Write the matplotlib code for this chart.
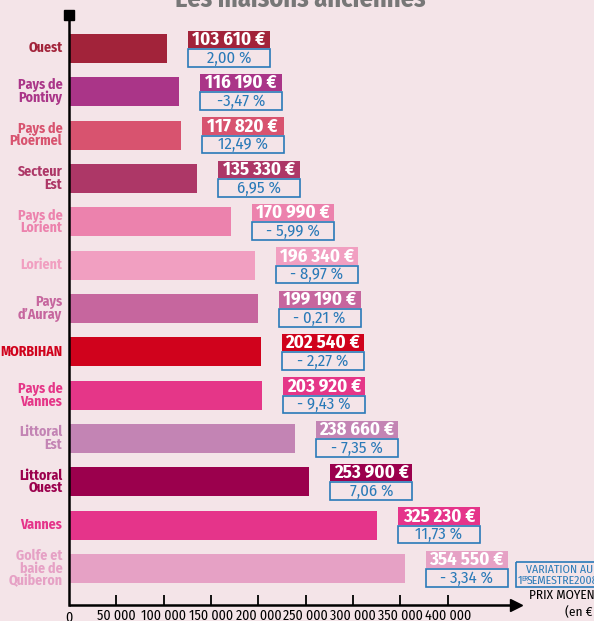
import matplotlib.pyplot as plt
from matplotlib.patches import Rectangle

# data
zones = ["Ouest", "Pays de\nPontivy", "Pays de\nPloërmel", "Secteur\nEst",
         "Pays de\nLorient", "Lorient", "Pays\nd\u2019Auray", "MORBIHAN",
         "Pays de\nVannes", "Littoral\nEst", "Littoral\nOuest", "Vannes",
         "Golfe et\nbaie de\nQuiberon"]
prix = [103610, 116190, 117820, 135330, 170990, 196340, 199190,
        202540, 203920, 238660, 253900, 325230, 354550]
prix_txt = ["103 610 €", "116 190 €", "117 820 €", "135 330 €", "170 990 €",
            "196 340 €", "199 190 €", "202 540 €", "203 920 €", "238 660 €",
            "253 900 €", "325 230 €", "354 550 €"]
variation = ["2,00 %", "-3,47 %", "12,49 %", "6,95 %", "- 5,99 %", "- 8,97 %",
             "- 0,21 %", "- 2,27 %", "- 9,43 %", "- 7,35 %", "7,06 %",
             "11,73 %", "- 3,34 %"]
couleurs = ["#a2233a", "#aa3588", "#d8536f", "#ad3767", "#ec82ad", "#f19fc1",
            "#c6669e", "#d0021c", "#e53688", "#c384b4", "#9b004d", "#e5348a",
            "#e6a1c5"]
ticks = [50000, 100000, 150000, 200000, 250000, 300000, 350000, 400000]
tick_labels = ["50 000", "100 000", "150 000", "200 000", "250 000",
               "300 000", "350 000", "400 000"]

fond = "#f4e4e8"
bleu = "#2a7ab8"
plt.rcParams['font.family'] = ["Fira Sans Condensed", "DejaVu Sans"]

W, H = 594, 621
fig = plt.figure(figsize=(W / 100, H / 100), dpi=100, facecolor=fond)
ax = fig.add_axes([69 / W, (H - 605) / H, (W - 69) / W, 590 / H])
ax.set_facecolor(fond)

xmax = (W - 69) / 0.9468 * 1000
ybas = 12.84
ax.set_xlim(0, xmax)
ax.set_ylim(ybas, -0.77)

y = list(range(len(zones)))
ax.barh(y, prix, height=0.67, color=couleurs)

gap = 22200
bw = 86600
for i in y:
    x0 = prix[i] + gap
    ax.add_patch(Rectangle((x0, i - 0.41), bw, 0.40, facecolor=couleurs[i],
                           edgecolor='none'))
    ax.add_patch(Rectangle((x0, i + 0.01), bw, 0.41, facecolor='none',
                           edgecolor=bleu, lw=1.2))
    ax.text(x0 + bw / 2, i - 0.20, prix_txt[i], color='white', fontsize=13.5,
            fontweight='bold', ha='center', va='center')
    ax.text(x0 + bw / 2, i + 0.22, variation[i], color=bleu, fontsize=12,
            ha='center', va='center')
    ax.text(-7000, i, zones[i], color=couleurs[i], fontsize=10,
            fontweight='bold', ha='right', va='center', linespacing=0.85)

# axes
for s in ['top', 'right', 'bottom']:
    ax.spines[s].set_visible(False)
ax.spines['left'].set_linewidth(1.8)
ax.spines['left'].set_color('black')
ax.set_yticks([])
ax.set_xticks(ticks)
ax.set_xticklabels(tick_labels)
ax.tick_params(axis='x', direction='in', length=7, width=1.3, pad=3,
               labelsize=10)
ax.text(0, ybas + 0.13, "0", fontsize=10, ha='center', va='top')

# axe x avec fleche
ax.plot([0, 468000], [ybas, ybas], color='black', lw=1.8, clip_on=False,
        solid_capstyle='butt')
ax.plot([472000], [ybas], marker='>', markersize=9, color='black',
        clip_on=False)
ax.plot([0], [-0.77], marker='s', markersize=6.5, color='black',
        clip_on=False)

fig.text(300 / W, 1 - 7 / H, "Les maisons anciennes", fontsize=19,
         fontweight='bold', color='#777777', ha='center', va='baseline')

ax.text(486000, ybas - 0.08, "PRIX MOYEN", fontsize=9.5, ha='left',
        va='bottom')
ax.text(524000, ybas + 0.03, "(en €", fontsize=9.5, ha='left', va='top')

ax.add_patch(Rectangle((472000, 11.85), 90000, 0.58, facecolor='none',
                       edgecolor=bleu, lw=1.2, clip_on=False))
ax.text(483000, 12.03, "VARIATION AU", color=bleu, fontsize=8.5,
        ha='left', va='center')
ax.text(473500, 12.28, "1", color=bleu, fontsize=8.5, ha='left', va='center')
ax.text(477800, 12.24, "ER", color=bleu, fontsize=5, ha='left', va='center')
ax.text(484000, 12.28, "SEMESTRE2008", color=bleu, fontsize=8.5,
        ha='left', va='center')

fig.savefig("out.png", dpi=100, facecolor=fond)
